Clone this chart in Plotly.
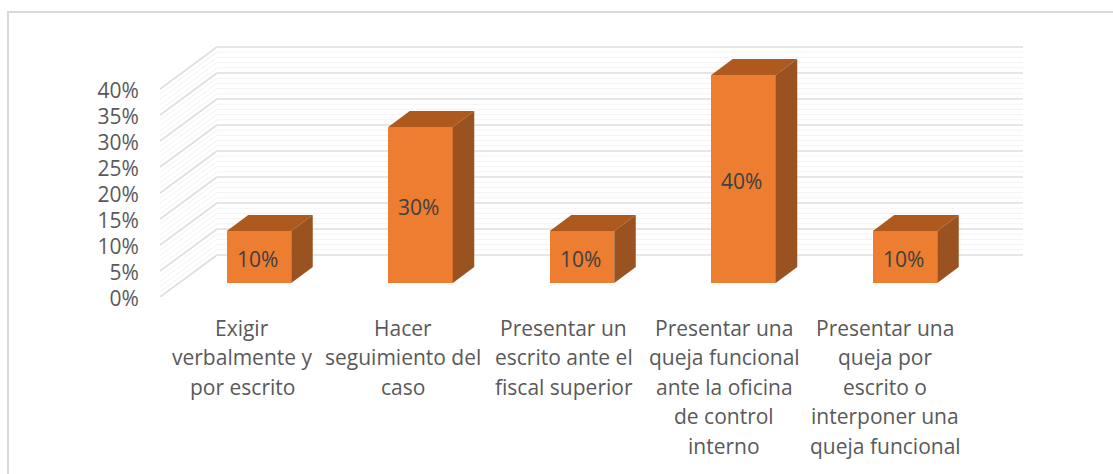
import plotly.graph_objects as go

CATEGORY_LINES = [
    ["Exigir", "verbalmente y", "por escrito"],
    ["Hacer", "seguimiento del", "caso"],
    ["Presentar un", "escrito ante el", "fiscal superior"],
    ["Presentar una", "queja funcional", "ante la oficina", "de control", "interno"],
    ["Presentar una", "queja por", "escrito o", "interponer una", "queja funcional"],
]
VALUES = [10, 30, 10, 40, 10]
MAJOR_TICKS = [0, 5, 10, 15, 20, 25, 30, 35, 40]
MINOR_TICKS = [v for v in range(0, 41) if v % 5 != 0]

# Oblique projection parameters of the 3D look (axis units)
PX_X = 161.5      # px per category
PX_Y = 5.2        # px per percent
WALL_DX = 57 / PX_X
WALL_DY = 42 / PX_Y
BAR_WIDTH = 64.5 / PX_X
BAR_BASE = 14 / PX_Y
BAR_DX = 21.5 / PX_X
BAR_DY = 16 / PX_Y
X0 = (160 - 259) / PX_X
X1 = (1023 - 259) / PX_X
Y1 = (297 - 46) / PX_Y
FONT = "Open Sans"
FONT_SIZE = 21

FRONT, TOP, SIDE = "#ED7D31", "#AE5A1E", "#9A5220"
MAJOR_C, MINOR_C = "#DEDEDE", "#F3F3F3"

shapes = []
for ticks, col, w in ((MINOR_TICKS, MINOR_C, 1), (MAJOR_TICKS, MAJOR_C, 1.6)):
    for v in ticks:
        shapes.append(dict(type="line", layer="below", xref="x", yref="y",
                           x0=X0 + WALL_DX, x1=X1, y0=v + WALL_DY, y1=v + WALL_DY,
                           line=dict(color=col, width=w)))
        shapes.append(dict(type="line", layer="below", xref="x", yref="y",
                           x0=X0, x1=X0 + WALL_DX, y0=v, y1=v + WALL_DY,
                           line=dict(color=col, width=w)))
# chart frame: left and top edges, running off the bottom and right of the page
fx = lambda px: (px - 160) / 863
fy = lambda py: (474 - py - 177) / 251
shapes.append(dict(type="path", xref="paper", yref="paper", layer="below",
                   path=f"M {fx(8)} {fy(474)} L {fx(8)} {fy(12)} L {fx(1113)} {fy(12)}",
                   line=dict(color="#D9D9D9", width=2)))

fig = go.Figure()
xs = list(range(len(VALUES)))
fig.add_trace(go.Bar(x=xs, y=VALUES, base=[BAR_BASE] * len(VALUES), width=BAR_WIDTH,
                     marker=dict(color=FRONT, line=dict(width=0))))
for i, v in zip(xs, VALUES):
    l, r = i - BAR_WIDTH / 2, i + BAR_WIDTH / 2
    b, t = BAR_BASE, BAR_BASE + v
    fig.add_trace(go.Scatter(x=[l, r, r + BAR_DX, l + BAR_DX, l],
                             y=[t, t, t + BAR_DY, t + BAR_DY, t],
                             mode="lines", fill="toself", fillcolor=TOP,
                             line=dict(width=0), hoverinfo="skip"))
    fig.add_trace(go.Scatter(x=[r, r + BAR_DX, r + BAR_DX, r, r],
                             y=[b, b + BAR_DY, t + BAR_DY, t, b],
                             mode="lines", fill="toself", fillcolor=SIDE,
                             line=dict(width=0), hoverinfo="skip"))

annotations = []
for i, v in zip(xs, VALUES):
    annotations.append(dict(text=f"{v}%", x=i, xref="x", y=BAR_BASE + v / 2, yref="y",
                            xshift=-2, yshift=-2, showarrow=False,
                            font=dict(family=FONT, size=FONT_SIZE, color="#404040")))
for i, lines in enumerate(CATEGORY_LINES):
    for k, line in enumerate(lines):
        annotations.append(dict(text=line, x=(242 + 160.75 * i - 259) / PX_X, xref="x",
                                y=0, yref="paper",
                                yanchor="middle", xanchor="center", showarrow=False,
                                yshift=-(30.5 + 29.6 * k),
                                font=dict(family=FONT, size=FONT_SIZE, color="#595959")))

fig.update_layout(
    width=1113, height=474, showlegend=False, bargap=0,
    margin=dict(l=160, r=90, t=46, b=177),
    paper_bgcolor="white", plot_bgcolor="rgba(0,0,0,0)",
    font=dict(family=FONT, size=FONT_SIZE, color="#595959"),
    shapes=shapes, annotations=annotations,
    xaxis=dict(range=[X0, X1], showgrid=False, zeroline=False, showline=False,
               showticklabels=False, ticks=""),
    yaxis=dict(range=[0, Y1], tickvals=MAJOR_TICKS, ticktext=[f"{v}%" for v in MAJOR_TICKS],
               showgrid=False, zeroline=False, showline=False,
               ticks="outside", ticklen=16, tickcolor="rgba(0,0,0,0)", tickwidth=1,
               ticklabelshift=2,
               tickfont=dict(family=FONT, size=FONT_SIZE, color="#595959")),
)
fig.write_html("out.html", post_script="document.body.style.margin='0';",
               config={"displayModeBar": False})
